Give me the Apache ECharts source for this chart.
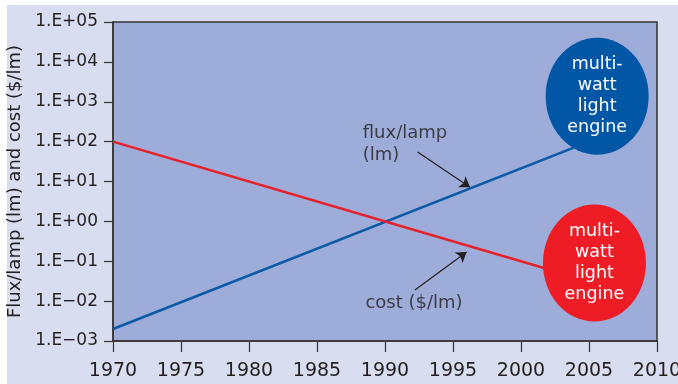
<!DOCTYPE html>
<html><head><meta charset="utf-8">
<script src="https://cdn.jsdelivr.net/npm/echarts@6/dist/echarts.min.js"></script>
<style>html,body{margin:0;padding:0;background:#fff}#c{width:678px;height:384px}</style>
</head><body><div id="c"></div>
<script>
// Data
const xTicks = [1970, 1975, 1980, 1985, 1990, 1995, 2000, 2005, 2010];
const yExponents = [-3, -2, -1, 0, 1, 2, 3, 4, 5];
const fluxYears = [1970, 2005];
const fluxValues = [0.002, 100];
const costYears = [1970, 2003];
const costValues = [100, 0.05];
const bubbleText = 'multi-\nwatt\nlight\nengine';
const blueBubble = [2005.6, 1380];
const redBubble = [2005.4, 0.09];
const fluxArrow = [[1992.4, 55], [1996.25, 7.2]];
const costArrow = [[1992.2, 0.019], [1996.0, 0.17]];
const fluxLabelPos = [1988.4, 300];
const costLabelPos = [1988.6, 0.016];

const FONT = 'DejaVu Sans';
const TXT = '#231f20';
const ellipse = 'path://M0,50 A50,50 0 1,1 100,50 A50,50 0 1,1 0,50 Z';

function fmtY(v) {
  const e = Math.round(Math.log10(v));
  const s = e < 0 ? '\u2212' : '+';
  const a = Math.abs(e);
  return '1.E' + s + (a < 10 ? '0' : '') + a;
}

const chart = echarts.init(document.getElementById('c'), null, {renderer: 'canvas'});
chart.setOption({
  backgroundColor: '#ffffff',
  animation: false,
  graphic: [{type: 'rect', left: 7, top: 5, shape: {width: 671, height: 379}, style: {fill: '#d8deef'}, z: -10}],
  grid: {left: 113, top: 22, right: 21, bottom: 43, containLabel: false, outerBoundsMode: 'none',
    show: true, backgroundColor: '#9dacd8', borderColor: '#333333', borderWidth: 1.5},
  xAxis: {
    type: 'value', min: xTicks[0], max: xTicks[xTicks.length - 1], interval: 5,
    splitLine: {show: false},
    axisLine: {lineStyle: {color: '#333333', width: 1.5}},
    axisTick: {length: 11, lineStyle: {color: '#333333', width: 1.2}},
    axisLabel: {color: TXT, fontFamily: FONT, fontSize: 19, margin: 21, formatter: v => String(v)}
  },
  yAxis: {
    type: 'log', logBase: 10, min: Math.pow(10, yExponents[0]), max: Math.pow(10, yExponents[yExponents.length - 1]),
    splitLine: {show: false}, minorTick: {show: false},
    axisLine: {lineStyle: {color: '#333333', width: 1.5}},
    axisTick: {length: 9, lineStyle: {color: '#333333', width: 1.2}},
    axisLabel: {color: TXT, fontFamily: FONT, fontSize: 17, margin: 15, formatter: fmtY},
    name: 'Flux/lamp (lm) and cost ($/lm)', nameLocation: 'middle', nameGap: 88,
    nameTextStyle: {color: TXT, fontFamily: FONT, fontSize: 18}
  },
  series: [
    {type: 'line', data: fluxYears.map((y, i) => [y, fluxValues[i]]), symbol: 'none', lineStyle: {color: '#0a5aa8', width: 2.6}, z: 3},
    {type: 'line', data: costYears.map((y, i) => [y, costValues[i]]), symbol: 'none', lineStyle: {color: '#e8202a', width: 2.6}, z: 3},
    {type: 'lines', coordinateSystem: 'cartesian2d', symbol: ['none', 'arrow'], symbolSize: 10,
      lineStyle: {color: TXT, width: 1.2, opacity: 1},
      data: [{coords: fluxArrow}, {coords: costArrow}], z: 4},
    {type: 'scatter', symbol: ellipse, symbolKeepAspect: false, symbolSize: [103, 117], z: 5,
      data: [
        {value: blueBubble, itemStyle: {color: '#0256a6', opacity: 1}},
        {value: redBubble, itemStyle: {color: '#ee1c25', opacity: 1}}
      ],
      label: {show: true, position: 'inside', formatter: bubbleText, color: '#ffffff', fontFamily: FONT, fontSize: 17.5, lineHeight: 21, align: 'center'}
    },
    {type: 'scatter', symbolSize: 1, itemStyle: {color: 'rgba(0,0,0,0)'}, z: 6,
      data: [
        {value: fluxLabelPos, label: {show: true, formatter: 'flux/lamp\n(lm)'}},
        {value: costLabelPos, label: {show: true, formatter: 'cost ($/lm)'}}
      ],
      label: {show: true, position: [0, 0], align: 'left', verticalAlign: 'top', color: TXT, fontFamily: FONT, fontSize: 18, lineHeight: 22}
    }
  ]
});
</script></body></html>
